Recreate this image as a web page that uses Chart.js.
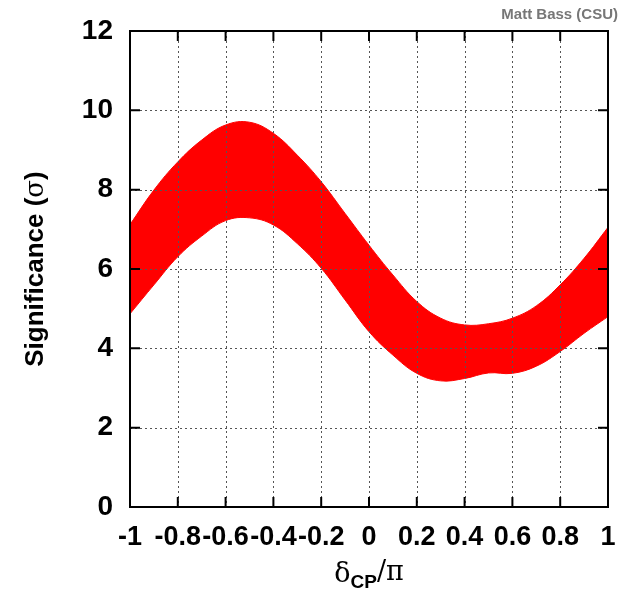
<!DOCTYPE html>
<html>
<head>
<meta charset="utf-8">
<script src="https://cdn.jsdelivr.net/npm/chart.js@4.4.0/dist/chart.umd.min.js"></script>
<style>
  html, body { margin: 0; padding: 0; background: #fff; }
  #wrap { width: 623px; height: 590px; }
</style>
</head>
<body>
<div id="wrap"><canvas id="sigChart"></canvas></div>
<script>
// ========================== DATA ==============================
const deltaCP = [-1, -0.9, -0.8, -0.7, -0.6, -0.5, -0.4, -0.3, -0.2, -0.1, 0,
                 0.1, 0.2, 0.3, 0.4, 0.5, 0.6, 0.7, 0.8, 0.9, 1];
const sigUpper = [7.12, 7.99, 8.70, 9.25, 9.63, 9.70, 9.42, 8.87, 8.20, 7.40, 6.60,
                  5.85, 5.18, 4.76, 4.59, 4.62, 4.76, 5.07, 5.60, 6.27, 7.05];
const sigLower = [4.87, 5.60, 6.31, 6.83, 7.22, 7.29, 7.11, 6.64, 6.02, 5.22, 4.42,
                  3.83, 3.37, 3.18, 3.24, 3.38, 3.37, 3.55, 3.92, 4.38, 4.80];
const xTicks = [-1, -0.8, -0.6, -0.4, -0.2, 0, 0.2, 0.4, 0.6, 0.8, 1];
const yTicks = [0, 2, 4, 6, 8, 10, 12];

const toPts = (ys) => deltaCP.map((x, i) => ({ x, y: ys[i] }));

// ========================== FRAME / GRID / LABELS ========================
const framePlugin = {
  id: 'frame',
  afterDatasetsDraw(chart) {
    const { ctx, chartArea: a, scales: { x, y } } = chart;
    ctx.save();
    // dotted grid over the band
    ctx.strokeStyle = '#555';
    ctx.lineWidth = 1;
    ctx.setLineDash([2, 3]);
    xTicks.forEach(v => {
      const px = Math.round(x.getPixelForValue(v)) + 0.5;
      ctx.beginPath(); ctx.moveTo(px, a.top); ctx.lineTo(px, a.bottom); ctx.stroke();
    });
    yTicks.forEach(v => {
      const py = Math.round(y.getPixelForValue(v)) + 0.5;
      ctx.beginPath(); ctx.moveTo(a.left, py); ctx.lineTo(a.right, py); ctx.stroke();
    });
    ctx.setLineDash([]);
    // inward tick marks
    ctx.strokeStyle = '#000';
    ctx.lineWidth = 2;
    const tl = 10;
    xTicks.forEach(v => {
      const px = x.getPixelForValue(v);
      ctx.beginPath();
      ctx.moveTo(px, a.bottom); ctx.lineTo(px, a.bottom - tl);
      ctx.moveTo(px, a.top); ctx.lineTo(px, a.top + tl);
      ctx.stroke();
    });
    yTicks.forEach(v => {
      const py = y.getPixelForValue(v);
      ctx.beginPath();
      ctx.moveTo(a.left, py); ctx.lineTo(a.left + tl, py);
      ctx.moveTo(a.right, py); ctx.lineTo(a.right - tl, py);
      ctx.stroke();
    });
    // frame
    ctx.strokeRect(a.left, a.top, a.right - a.left, a.bottom - a.top);

    // y title
    ctx.fillStyle = '#000';
    ctx.save();
    ctx.translate(36, (a.top + a.bottom) / 2);
    ctx.rotate(-Math.PI / 2);
    ctx.textBaseline = 'middle';
    const fB = 'bold 26px "Liberation Sans", Arial, sans-serif';
    const fS = '26px "DejaVu Serif", serif';
    const t1 = 'Significance (';
    ctx.font = fB;
    const w1 = ctx.measureText(t1).width;
    ctx.font = fS;
    const w2 = ctx.measureText('σ').width;
    ctx.font = fB;
    const w3 = ctx.measureText(')').width;
    let sx = -(w1 + w2 + w3) / 2;
    ctx.textAlign = 'left';
    ctx.fillText(t1, sx, 0); sx += w1;
    ctx.font = fS;
    ctx.fillText('σ', sx, 0); sx += w2;
    ctx.font = fB;
    ctx.fillText(')', sx, 0);
    ctx.restore();

    // x title: δ_CP / π
    const cx = (a.left + a.right) / 2;
    const base = 582;
    ctx.textBaseline = 'alphabetic';
    ctx.textAlign = 'left';
    const fSer = '27px "DejaVu Serif", serif';
    const fSub = 'bold 19px "Liberation Sans", Arial, sans-serif';
    ctx.font = fSer; const wd = ctx.measureText('δ').width;
    ctx.font = fSub; const wc = ctx.measureText('CP').width;
    ctx.font = fSer; const wp = ctx.measureText('/π').width;
    let px0 = cx - (wd + wc + wp) / 2;
    ctx.font = fSer; ctx.fillText('δ', px0, base); px0 += wd;
    ctx.font = fSub; ctx.fillText('CP', px0, base + 6); px0 += wc;
    ctx.font = fSer; ctx.fillText('/π', px0, base - 2);

    // credit
    ctx.font = 'bold 15px "Liberation Sans", Arial, sans-serif';
    ctx.fillStyle = '#777';
    ctx.textAlign = 'right';
    ctx.textBaseline = 'middle';
    ctx.fillText('Matt Bass (CSU)', 618, 15);
    ctx.restore();
  }
};

// ========================== CHART ============================
new Chart(document.getElementById('sigChart'), {
  type: 'line',
  data: {
    datasets: [
      {
        label: 'lower',
        data: toPts(sigLower),
        borderColor: '#ff0000',
        borderWidth: 1,
        pointRadius: 0,
        tension: 0.4,
        fill: false
      },
      {
        label: 'upper',
        data: toPts(sigUpper),
        borderColor: '#ff0000',
        backgroundColor: '#ff0000',
        borderWidth: 1,
        pointRadius: 0,
        tension: 0.4,
        fill: '-1'
      }
    ]
  },
  options: {
    responsive: true,
    maintainAspectRatio: false,
    animation: false,
    layout: { padding: { top: 31, right: 15, left: 0, bottom: 0 } },
    plugins: {
      legend: { display: false },
      tooltip: { enabled: false }
    },
    scales: {
      x: {
        type: 'linear',
        min: -1,
        max: 1,
        afterBuildTicks: (s) => { s.ticks = xTicks.map(v => ({ value: v })); },
        afterFit: (s) => { s.height = 83; s.paddingLeft = 0; s.paddingRight = 0; },
        grid: { display: false, drawTicks: false },
        border: { display: false },
        ticks: {
          padding: 14,
          color: '#000',
          maxRotation: 0,
          autoSkip: false,
          font: { family: '"Liberation Sans", Arial, sans-serif', size: 27, weight: 'bold' },
          callback: (v) => String(v)
        }
      },
      y: {
        min: 0,
        max: 12,
        afterBuildTicks: (s) => { s.ticks = yTicks.map(v => ({ value: v })); },
        afterFit: (s) => { s.width = 130; s.paddingTop = 0; s.paddingBottom = 0; },
        grid: { display: false, drawTicks: false },
        border: { display: false },
        ticks: {
          padding: 17,
          color: '#000',
          font: { family: '"Liberation Sans", Arial, sans-serif', size: 28, weight: 'bold' },
          callback: (v) => String(v)
        }
      }
    }
  },
  plugins: [framePlugin]
});
</script>
</body>
</html>
